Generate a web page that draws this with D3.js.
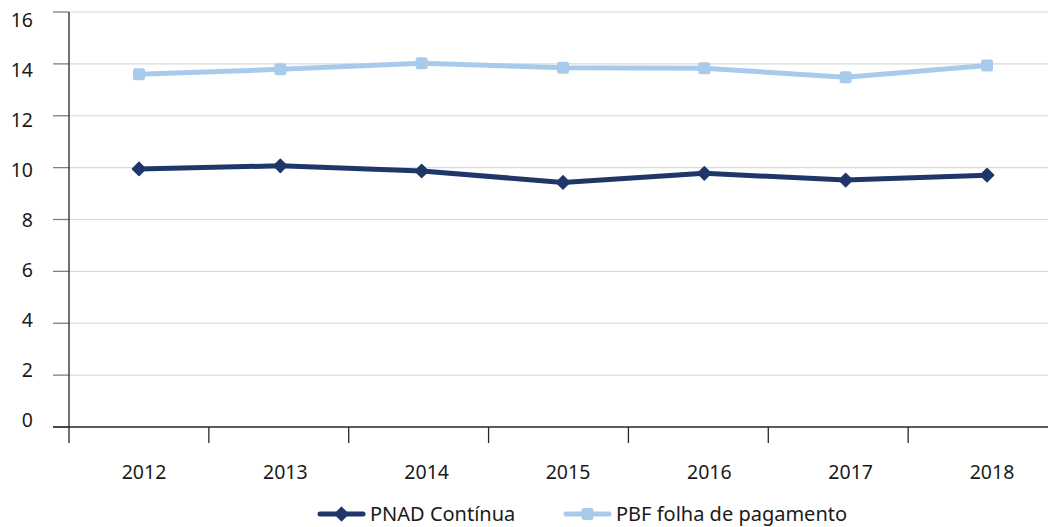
<!DOCTYPE html>
<html>
<head>
<meta charset="utf-8">
<script src="https://cdn.jsdelivr.net/npm/d3@7"></script>
<style>
  body { margin: 0; background: #fff; }
  svg { display: block; font-family: "Noto Sans", "Open Sans", sans-serif; }
  .grid line { stroke: #d9d9d9; stroke-width: 1.2; }
</style>
</head>
<body>
<div class="chart"></div>
<script>
var years = ["2012", "2013", "2014", "2015", "2016", "2017", "2018"];
var pnad = [9.95, 10.07, 9.87, 9.43, 9.78, 9.52, 9.71];   // PNAD Contínua
var pbf  = [13.6, 13.79, 14.02, 13.85, 13.83, 13.48, 13.94]; // PBF folha de pagamento
var yTicks = [0, 2, 4, 6, 8, 10, 12, 14, 16];
var seriesNames = ["PNAD Contínua", "PBF folha de pagamento"];
var seriesColors = ["#1f3768", "#a9cbeb"];

var W = 1048, H = 527;
var plotLeft = 69, plotRight = 1048, plotTop = 12, plotBottom = 427;

var svg = d3.select(".chart").append("svg")
  .attr("width", W).attr("height", H);

var yScale = d3.scaleLinear().domain([0, 16]).range([plotBottom, plotTop]);
// tick labels sit a bit tighter than the gridlines in the original
var yLabel = d3.scaleLinear().domain([0, 16]).range([plotBottom - 7, plotTop + 8]);
var xBand = d3.scaleBand().domain(years).range([plotLeft, plotRight]);
var xPt = d3.scalePoint().domain(years).range([plotLeft + 70, plotRight - 61]);

// gridlines
svg.append("g").attr("class", "grid")
  .selectAll("line")
  .data(yTicks.filter(function(d){ return d > 0; }))
  .enter().append("line")
    .attr("x1", plotLeft).attr("x2", plotRight)
    .attr("y1", function(d){ return yScale(d); })
    .attr("y2", function(d){ return yScale(d); });

// y axis ticks
svg.append("g").selectAll("line")
  .data(yTicks)
  .enter().append("line")
    .attr("x1", plotLeft - 16).attr("x2", plotLeft)
    .attr("y1", function(d){ return yScale(d); })
    .attr("y2", function(d){ return yScale(d); })
    .attr("stroke", "#7f7f7f").attr("stroke-width", 1.3);

svg.append("g").selectAll("text")
  .data(yTicks)
  .enter().append("text")
    .attr("x", 33)
    .attr("y", function(d){ return yLabel(d); })
    .attr("dy", "0.35em")
    .attr("text-anchor", "end")
    .style("font-size", "19.5px")
    .attr("fill", "#1a1a1a")
    .text(function(d){ return d; });

svg.append("line")
  .attr("x1", plotLeft).attr("x2", plotLeft)
  .attr("y1", plotTop).attr("y2", plotBottom + 16)
  .attr("stroke", "#262626").attr("stroke-width", 1.3);
svg.append("line")
  .attr("x1", plotLeft - 16).attr("x2", plotRight)
  .attr("y1", plotBottom).attr("y2", plotBottom)
  .attr("stroke", "#262626").attr("stroke-width", 1.3);

// x axis: band boundaries as ticks, labels at points
svg.append("g").selectAll("line")
  .data(years.slice(1))
  .enter().append("line")
    .attr("x1", function(d){ return xBand(d); })
    .attr("x2", function(d){ return xBand(d); })
    .attr("y1", plotBottom).attr("y2", plotBottom + 16)
    .attr("stroke", "#262626").attr("stroke-width", 1.3);

svg.append("g").selectAll("text")
  .data(years)
  .enter().append("text")
    .attr("x", function(d){ return xPt(d) + 5; })
    .attr("y", plotBottom + 52)
    .attr("text-anchor", "middle")
    .style("font-size", "19.5px")
    .attr("fill", "#1a1a1a")
    .text(function(d){ return d; });

// lines
var line = d3.line()
  .x(function(d, i){ return xPt(years[i]); })
  .y(function(d){ return yScale(d); });

[pbf, pnad].forEach(function(vals, k){
  var idx = k === 0 ? 1 : 0;
  svg.append("path")
    .datum(vals)
    .attr("fill", "none")
    .attr("stroke", seriesColors[idx])
    .attr("stroke-width", 5)
    .attr("stroke-linejoin", "round")
    .attr("d", line);
});

// markers
svg.append("g").selectAll("rect")
  .data(pbf)
  .enter().append("rect")
    .attr("x", function(d, i){ return xPt(years[i]) - 6; })
    .attr("y", function(d){ return yScale(d) - 6; })
    .attr("width", 12).attr("height", 12)
    .attr("rx", 2.5)
    .attr("fill", seriesColors[1]);

var diamond = d3.symbol().type(d3.symbolDiamond2).size(110);
svg.append("g").selectAll("path")
  .data(pnad)
  .enter().append("path")
    .attr("d", diamond)
    .attr("transform", function(d, i){ return "translate(" + xPt(years[i]) + "," + yScale(d) + ")"; })
    .attr("fill", seriesColors[0])
    .attr("stroke", seriesColors[0])
    .attr("stroke-width", 1.5)
    .attr("stroke-linejoin", "round");

// legend
var legendX = [320, 566];
var lg = svg.append("g").selectAll("g")
  .data(seriesNames)
  .enter().append("g")
    .attr("transform", function(d, i){ return "translate(" + legendX[i] + ",514)"; });

lg.append("line")
  .attr("x1", 0).attr("x2", 43).attr("y1", 0).attr("y2", 0)
  .attr("stroke", function(d, i){ return seriesColors[i]; })
  .attr("stroke-width", 5)
  .attr("stroke-linecap", "round");

lg.each(function(d, i){
  var g = d3.select(this);
  if (i === 0) {
    g.append("path").attr("d", diamond).attr("transform", "translate(21.5,0)")
      .attr("fill", seriesColors[0]).attr("stroke", seriesColors[0]).attr("stroke-width", 1.5);
  } else {
    g.append("rect").attr("x", 15.5).attr("y", -6).attr("width", 12).attr("height", 12)
      .attr("rx", 2.5).attr("fill", seriesColors[1]);
  }
});

lg.append("text")
  .attr("x", 50).attr("y", 0).attr("dy", "0.35em")
  .style("font-size", "20px")
  .attr("fill", "#1a1a1a")
  .text(function(d){ return d; });
</script>
</body>
</html>
